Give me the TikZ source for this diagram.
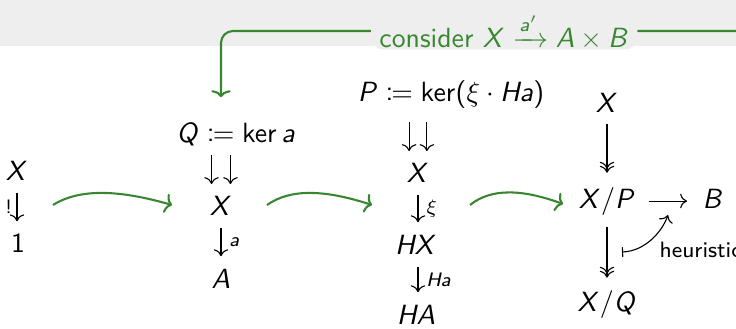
\documentclass[tikz,border=0pt]{standalone}
\usepackage{amsmath,mathtools}
\usetikzlibrary{arrows.meta,cd}
% beamer-like sans serif math
\DeclareSymbolFont{sfletters}{OT1}{cmss}{m}{sl}
\SetSymbolFont{operators}{normal}{OT1}{cmss}{m}{n}
\DeclareMathSymbol{A}{\mathalpha}{sfletters}{`A}
\DeclareMathSymbol{B}{\mathalpha}{sfletters}{`B}
\DeclareMathSymbol{H}{\mathalpha}{sfletters}{`H}
\DeclareMathSymbol{P}{\mathalpha}{sfletters}{`P}
\DeclareMathSymbol{Q}{\mathalpha}{sfletters}{`Q}
\DeclareMathSymbol{X}{\mathalpha}{sfletters}{`X}
\DeclareMathSymbol{a}{\mathalpha}{sfletters}{`a}
\definecolor{grn}{RGB}{56,135,48}
\definecolor{bandgray}{RGB}{238,238,238}
\begin{document}
\begin{tikzpicture}[x=0.36pt,y=-0.36pt,
  m/.style={inner sep=0pt,anchor=base},
  cdarr/.style={-{cm to},line width=0.4pt,shorten <=4.3pt,shorten >=4.3pt},
  twohead/.style={-{cm double to},line width=0.4pt},
  garr/.style={grn,line width=0.75pt,-{To[length=2.5pt,width=7pt]}},
  lbl/.style={inner sep=0pt,right=2.8pt,midway},
]
\useasboundingbox (0,0) rectangle (736,328);
\fill[bandgray] (0,0) rectangle (736,46);

% column 1
\node[m] (X1) at (17,180) {$X$};
\node[m] (one1) at (18,252) {$1$};
\draw[cdarr] (X1.south) -- (X1.south |- one1.north)
  node[inner sep=0pt,left=1.6pt,midway] {$\scriptstyle !$};

% column 2
\node[m] (Q2) at (236,142) {$Q \coloneqq \ker a$};
\node[m] (X2) at (221,215) {$X$};
\node[m] (A2) at (221,288) {$A$};
\draw[cdarr,shorten <=3.4pt,shorten >=4pt] ([xshift=-3.4pt]Q2.south -| X2.north) -- ([xshift=-3.4pt]X2.north);
\draw[cdarr,shorten <=3.4pt,shorten >=4pt] ([xshift=3.4pt]Q2.south -| X2.north) -- ([xshift=3.4pt]X2.north);
\draw[cdarr] (X2.south) -- (A2.north) node[lbl] {$\scriptstyle a$};

% column 3
\node[m] (P3) at (451,101) {$P \coloneqq \ker(\xi\cdot Ha)$};
\node[m] (X3) at (418,182) {$X$};
\node[m] (HX3) at (416,254) {$HX$};
\node[m] (HA3) at (416,324) {$HA$};
\draw[cdarr,shorten <=5pt,shorten >=4pt] ([xshift=-3.2pt]P3.south -| X3.north) -- ([xshift=-3.2pt]X3.north);
\draw[cdarr,shorten <=5pt,shorten >=4pt] ([xshift=3.2pt]P3.south -| X3.north) -- ([xshift=3.2pt]X3.north);
\draw[cdarr] (X3.south) -- (X3.south |- HX3.north) node[lbl] {$\scriptstyle \xi$};
\draw[cdarr] (X3.south |- HX3.south) -- (X3.south |- HA3.north) node[lbl] {$\scriptstyle Ha$};

% column 4
\node[m] (X4) at (607,112) {$X$};
\node[m] (XP4) at (607,208) {$X/P$};
\node[m] (B4) at (713,208) {$B$};
\node[m] (XQ4) at (607,311) {$X/Q$};
\draw[twohead,shorten <=4pt,shorten >=5pt] (X4.south) -- (XP4.north);
\draw[twohead,shorten <=4.3pt,shorten >=4.3pt] (XP4.south) -- (XQ4.north);
\draw[-{cm to},line width=0.4pt,shorten <=4.7pt,shorten >=5.4pt] (XP4.east) -- (XP4.east -| B4.west);
\coordinate (hs) at (622,252);
\coordinate (he) at (668,215);
\draw[{cm bar}-{cm to},line width=0.4pt] (hs) .. controls (645,251) and (662,232) .. (he);
\node[inner sep=0pt,anchor=base west,font=\sffamily\footnotesize] (heur) at (659,257) {heuristic};

% green transitions
\coordinate (g1s) at (53,205);  \coordinate (g1e) at (172,205);
\coordinate (g2s) at (267,205); \coordinate (g2e) at (372,205);
\coordinate (g3s) at (470,205); \coordinate (g3e) at (563,204);
\draw[garr] (g1s) .. controls +(27,-17) and +(-52,-15) .. (g1e);
\draw[garr] (g2s) .. controls +(24,-17) and +(-46,-15) .. (g2e);
\draw[garr] (g3s) .. controls +(21,-17) and +(-41,-15) .. (g3e);

% top feedback arrow
\coordinate (gr) at (736,31);
\draw[garr,rounded corners=4.3pt,shorten >=9pt] (gr) --
  node[pos=0.45,fill=bandgray,text=grn,inner xsep=3pt,inner ysep=0pt,font=\sffamily] (cons) {consider $X \xrightarrow{a'} A\times B$}
  (gr -| X2) -- (Q2.north -| X2);
\end{tikzpicture}
\end{document}
